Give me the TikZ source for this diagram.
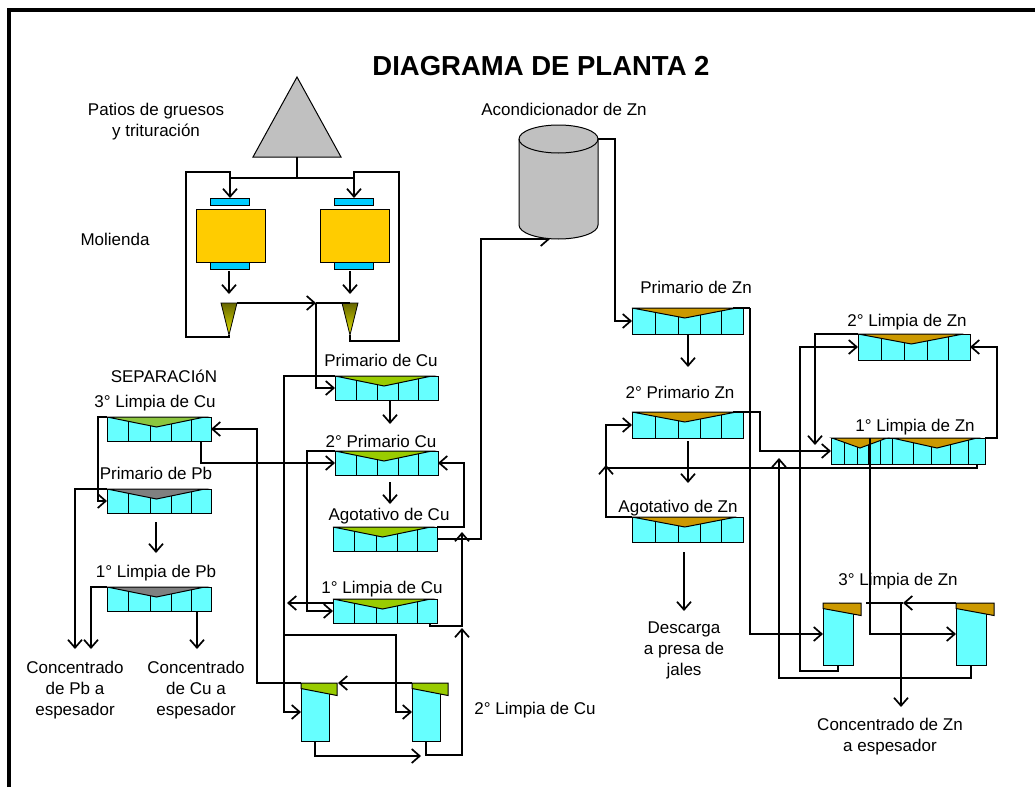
\documentclass[tikz,border=0pt]{standalone}
\usepackage{fontspec}
\setmainfont{Liberation Sans}
\usetikzlibrary{arrows.meta,calc,positioning}
\definecolor{tankgray}{HTML}{C0C0C0}
\definecolor{millyellow}{HTML}{FFCC00}
\definecolor{platesky}{HTML}{00CCFF}
\definecolor{cellcyan}{HTML}{66FFFF}
\definecolor{froCu}{HTML}{99CC00}
\definecolor{froCuclear}{HTML}{8CC63F}
\definecolor{froPb}{HTML}{808080}
\definecolor{froZn}{HTML}{CC9900}
\definecolor{conetop}{HTML}{666600}
\definecolor{conetip}{HTML}{E6E600}
\tikzset{
  lbl/.style={font=\fontsize{17}{21}\selectfont,align=center,inner sep=0pt},
  wire/.style={line width=1.7pt,line join=miter},
  flow/.style={wire,-{Straight Barb[length=8pt,width=14pt,line width=1.7pt]}},
  platebox/.style={draw,line width=1pt,fill=platesky,minimum width=39pt,minimum height=7pt,inner sep=0pt,anchor=north west},
  millbox/.style={draw,line width=1pt,fill=millyellow,minimum width=69pt,minimum height=53pt,inner sep=0pt,anchor=north west},
  bankbox/.style={draw,line width=1pt,fill=cellcyan,inner sep=0pt,outer sep=0pt,anchor=north west},
}
% bank of flotation cells: name, x, y, width, height, froth colour
\newcommand{\bank}[6]{
  \node[bankbox,minimum width=#4pt,minimum height=#5pt] (#1) at (#2,#3) {};
  \begin{scope}[shift={(#1.north west)},xscale=#4/100,line width=1pt]
    \foreach \fx/\fy in {21/4.4,41.7/8.8,62/6.9,81/2.8} \draw (\fx,\fy) -- (\fx,#5);
    \draw[fill=#6] (0,0) -- (47.6,10) -- (94,0) -- cycle;
  \end{scope}
}
% tall cell with froth lip: name, x, y, width, height, froth colour
\newcommand{\tallcell}[6]{
  \node[bankbox,minimum width=#4pt,minimum height=#5pt] (#1) at (#2,#3) {};
  \draw[line width=1pt,fill=#6] (#1.north west) -- ++(#4+8,0) -- ++(0,12.5) -- ($(#1.north west)+(0,5.5)$) -- cycle;
}
% hydrocyclone: name, x of axis
\newcommand{\cone}[2]{
  \coordinate (#1) at (#2,303);
  \coordinate (#1l) at (#2-8,303);
  \coordinate (#1r) at (#2+8,303);
  \coordinate (#1tip) at (#2,335);
  \shade[top color=conetop,bottom color=conetip] (#1l) -- (#1r) -- (#1tip) -- cycle;
  \draw[line width=0.8pt] (#1l) -- (#1r) -- (#1tip) -- cycle;
}
\begin{document}
\begin{tikzpicture}[x=1pt,y=-1pt]
\useasboundingbox (0,0) rectangle (1035,787);
\draw[line width=4pt] (9,787) -- (9,10) -- (1035,10);
\node[font=\fontsize{27.5}{30}\selectfont\bfseries,inner sep=0pt] (titulo) at (541,66) {DIAGRAMA DE PLANTA 2};
% molienda
\coordinate (patio) at (297,157);
\coordinate (split) at (297,178);
\draw[line width=1pt,fill=tankgray] (297,77) -- (341,157) -- (253,157) -- cycle;
\node[platebox] (ptl) at (210,198) {};
\node[platebox] (ptr) at (334,198) {};
\node[platebox] (pbl) at (210,262) {};
\node[platebox] (pbr) at (334,262) {};
\node[millbox] (ml) at (196,209) {};
\node[millbox] (mr) at (320,209) {};
\cone{conl}{229}
\cone{conr}{350}
\coordinate (feed) at (316,303);
\draw[wire] (patio) -- (split);
\draw[wire] (ptl.north |- split) -- (ptr.north |- split);
\draw[flow] (conltip) |- (186,337) -- (186,172) -| (ptl.north);
\draw[flow] (conrtip) |- (399,341) -- (399,172) -| (ptr.north);
\draw[flow] (229,271) -- (229,294);
\draw[flow] (350,271) -- (350,294);
\draw[wire] (feed) -- (conr);
\draw[flow] (conlr) -- (feed);
% circuito de cobre y plomo
\bank{pcu}{335}{376}{103}{24}{froCu}
\bank{spcu}{335}{451}{103}{24}{froCu}
\bank{agcu}{333}{527}{104}{24}{froCu}
\bank{lcuu}{333}{599}{104}{24}{froCu}
\bank{lcut}{107}{417}{104}{24}{froCuclear}
\bank{ppb}{107}{489}{104}{24}{froPb}
\bank{lpb}{107}{587}{104}{24}{froPb}
\tallcell{cca}{301}{683}{28}{58}{froCu}
\tallcell{ccb}{412}{683}{28}{58}{froCu}
\draw[flow] (feed) |- (pcu.west);
\draw[flow] (pcu.north west) -- (284,376) |- (cca.west);
\draw[flow] (390,400) -- (390,424);
\draw[flow] (390,482) -- (390,504);
\draw[flow] (156,522) -- (156,553);
\draw[flow] (lcut.north west) -- (98,417) |- (ppb.west);
\draw[flow] (201,441) |- (spcu.west);
\draw[flow] (cca.north west) -- (257,683) |- (lcut.east);
\draw[flow] (ppb.north west) -| (75,649);
\draw[flow] (lpb.north west) -| (91,649);
\draw[flow] (197,611) -- (197,649);
\draw[flow] (spcu.north west) -- (307,451) |- (lcuu.west);
\draw[flow] (agcu.north east) -- (464,527) |- (spcu.east);
\draw[flow] (agcu.east) -| (481,239) -- (550,239);
\draw[flow] (430,623) |- (462,626) -- (462,532);
\draw[flow] (ccb.south) |- (462,755) -- (462,628);
\draw[flow] (cca.south) |- (421,756);
\draw[flow] (333,603) -- (287,603);
\draw[flow] (284,635) -- (396,635) |- (ccb.west);
\draw[flow] (ccb.north west) -- (338,683);
% circuito de zinc
\draw[line width=1pt,fill=tankgray] (519,139) -- (519,225) arc[start angle=180,end angle=0,x radius=39.5,y radius=14] -- (598,139) arc[start angle=0,end angle=-180,x radius=39.5,y radius=14] -- cycle;
\draw[line width=1pt] (519,139) arc[start angle=180,end angle=0,x radius=39.5,y radius=14];
\coordinate (tankout) at (598,139);
\bank{pzn}{632}{308}{111}{26}{froZn}
\bank{spzn}{632}{412}{111}{26}{froZn}
\bank{azn}{632}{517}{111}{25}{froZn}
\bank{lznd}{858}{334}{112}{26}{froZn}
\node[bankbox,minimum width=154pt,minimum height=26pt] (lznu) at (831,438) {};
\begin{scope}[shift={(lznu.north west)},line width=1pt]
  \foreach \fx/\fy in {13/4.4,26/8.8,37/7,49/3,61/0,82/4,100/8.5,119/6.5,137/2} \draw (\fx,\fy) -- (\fx,26);
  \draw[fill=froZn] (1,0) -- (29,10) -- (56,0) -- cycle;
  \draw[fill=froZn] (61,0) -- (106,10) -- (146,0) -- cycle;
\end{scope}
\tallcell{zca}{823}{603}{30}{62}{froZn}
\tallcell{zcb}{956}{603}{30}{62}{froZn}
\draw[flow] (tankout) -- (615,139) |- (pzn.west);
\draw[wire] (733,308) -- (750,308);
\draw[flow] (750,308) |- (zca.west);
\draw[flow] (688,334) -- (688,367);
\draw[flow] (733,412) -- (760,412) |- (lznu.west);
\draw[flow] (688,441) -- (688,483);
\draw[flow] (azn.north west) -- (606,517) -- (606,465);
\draw[flow] (977,464) |- (606,468) |- (spzn.west);
\draw[flow] (684,552) -- (684,611);
\draw[flow] (lznd.north west) -- (815,334) -- (815,445);
\draw[flow] (zca.south) |- (800,671) |- (lznd.west);
\draw[flow] (zcb.south) |- (779,678) -- (779,458);
\draw[flow] (lznu.north east) -- (997,438) |- (lznd.east);
\draw[flow] (870,438) |- (zcb.west);
\draw[flow] (zcb.north west) -- (903,603);
\draw[wire] (903,603) -- (866,603);
\draw[flow] (901,603) -- (901,707);
% textos
\node[lbl] (tpatios) at (156,121.5) {Patios de gruesos\\y trituración};
\node[lbl] (tmol) at (115,239) {Molienda};
\node[lbl] (tsep) at (164,376) {SEPARACIóN};
\node[lbl] (tpcu) at (381,360) {Primario de Cu};
\node[lbl] (tlcut) at (155,403) {3° Limpia de Cu};
\node[lbl] (tspcu) at (381,441) {2° Primario Cu};
\node[lbl] (tppb) at (156,473) {Primario de Pb};
\node[lbl] (tagcu) at (389,516) {Agotativo de Cu};
\node[lbl] (tlpb) at (156,573) {1° Limpia de Pb};
\node[lbl] (tlcuu) at (382,589) {1° Limpia de Cu};
\node[lbl] (tcpb) at (75,690) {Concentrado\\de Pb a\\espesador};
\node[lbl] (tccu) at (196,690) {Concentrado\\de Cu a\\espesador};
\node[lbl] (tlcud) at (535,710) {2° Limpia de Cu};
\node[lbl] (tacon) at (564,109) {Acondicionador de Zn};
\node[lbl] (tpzn) at (696,287) {Primario de Zn};
\node[lbl] (tspzn) at (680,392) {2° Primario Zn};
\node[lbl] (tazn) at (678,508) {Agotativo de Zn};
\node[lbl] (tlznd) at (907,322) {2° Limpia de Zn};
\node[lbl] (tlznu) at (915,427) {1° Limpia de Zn};
\node[lbl] (tlznt) at (898,581) {3° Limpia de Zn};
\node[lbl] (tdesc) at (684,650) {Descarga\\a presa de\\jales};
\node[lbl] (tczn) at (890,737) {Concentrado de Zn\\a espesador};
\end{tikzpicture}
\end{document}
